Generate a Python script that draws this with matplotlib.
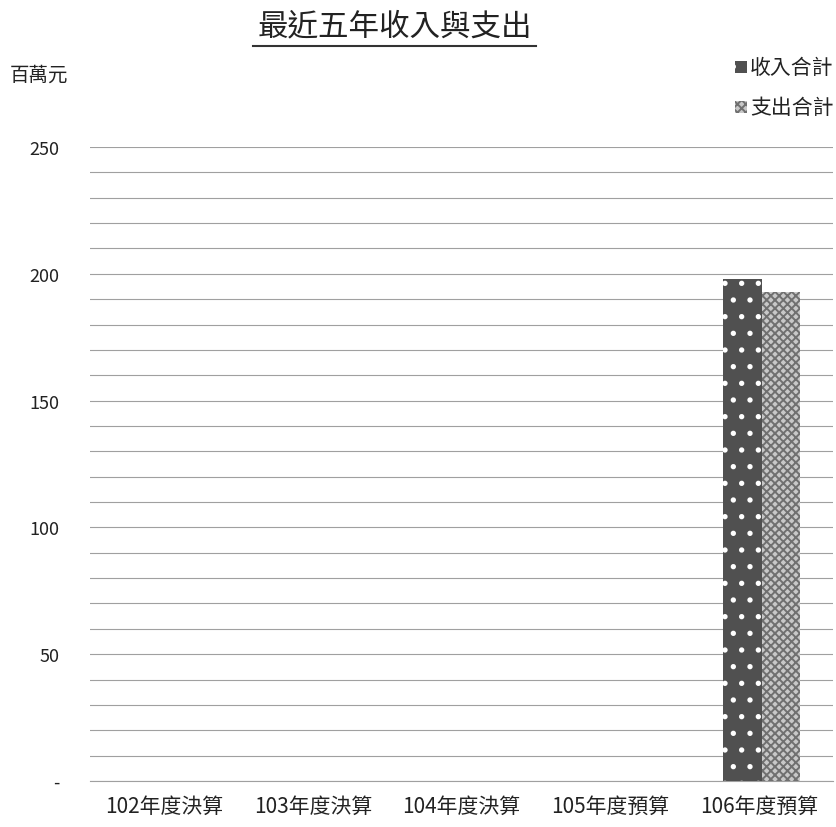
import matplotlib.pyplot as plt
from matplotlib.lines import Line2D
import numpy as np

plt.rcParams['font.family'] = ['Noto Sans CJK TC', 'DejaVu Sans']
plt.rcParams['hatch.linewidth'] = 1.4

years = ['102年度決算', '103年度決算', '104年度決算', '105年度預算', '106年度預算']
income = [0, 0, 0, 0, 198]
expense = [0, 0, 0, 0, 193]
yticks = [0, 50, 100, 150, 200, 250]
ytick_labels = ['-', '50', '100', '150', '200', '250']

fig = plt.figure(figsize=(8.37, 8.28), dpi=100)
ax = fig.add_axes([90/837, 1-782/828, 743/837, 634/828])

x = np.arange(len(years))
w = 0.26
ax.bar(x - w/2 + 0.02, income, w, color='#505050', edgecolor='white', hatch='.', linewidth=0, zorder=3)
ax.bar(x + w/2 + 0.02, expense, w, color='#c8c8c8', edgecolor='#707070', hatch='xxxx', linewidth=0, zorder=3)

ax.set_xlim(-0.5, 4.5)
ax.set_ylim(0, 250)
ax.set_yticks(range(0, 251, 10), minor=True)
ax.set_yticks(yticks)
ax.set_yticklabels(ytick_labels, fontsize=13, color='#222222')
ax.set_xticks(x)
ax.set_xticklabels(years, fontsize=15, color='#222222')
ax.tick_params(axis='both', which='both', length=0)
ax.tick_params(axis='x', pad=10)
ax.tick_params(axis='y', pad=22)
ax.grid(axis='y', which='both', color='#a0a0a0', lw=0.8, zorder=0)
ax.axhline(0, color='#a0a0a0', lw=0.8, zorder=0, clip_on=False)
for s in ax.spines.values():
    s.set_visible(False)

fig.text(395/837, 1-27/828, '最近五年收入與支出', fontsize=22, ha='center', va='center', color='#222222')
fig.add_artist(Line2D([253/837, 536/837], [1-47/828, 1-47/828], color='#333333', lw=1.5))
fig.text(10/837, 1-75/828, '百萬元', fontsize=14, ha='left', va='center', color='#222222')

# legend
fig.patches.append(plt.Rectangle((735/837, 1-74/828), 12/837, 12/828, transform=fig.transFigure,
                                 facecolor='#505050', edgecolor='white', hatch='.', lw=0, figure=fig))
fig.text(750/837, 1-68/828, '收入合計', fontsize=15, ha='left', va='center', color='#222222')
fig.patches.append(plt.Rectangle((735/837, 1-114/828), 12/837, 12/828, transform=fig.transFigure,
                                 facecolor='#c8c8c8', edgecolor='#707070', hatch='xxxx', lw=0, figure=fig))
fig.text(750/837, 1-108/828, '支出合計', fontsize=15, ha='left', va='center', color='#222222')

fig.savefig('out.png', dpi=100)
